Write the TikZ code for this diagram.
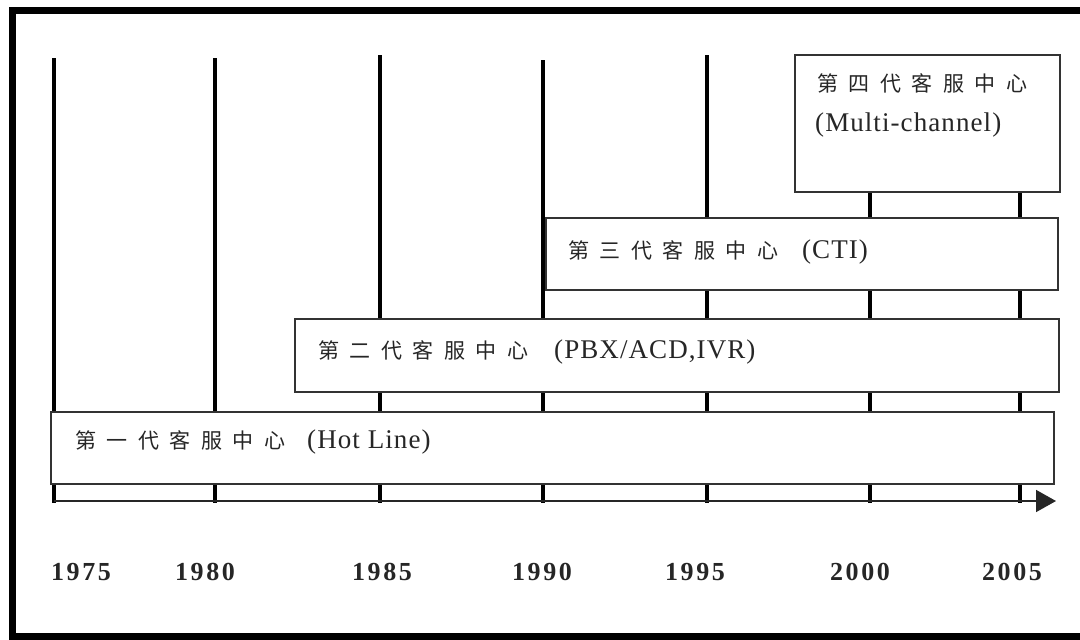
\documentclass[tikz,border=0pt]{standalone}
\usepackage{fontspec}
\setmainfont{Liberation Serif}
\newfontfamily\cjk{Noto Sans CJK TC}
\newfontfamily\latinspaced[LetterSpace=4]{Liberation Serif}
\newfontfamily\yearfont[LetterSpace=10]{Liberation Serif Bold}
\usetikzlibrary{arrows.meta}
\newcommand{\kk}{\hspace{10.5pt}}
\tikzset{
  frame/.style={line width=7pt, draw=black},
  yearline/.style={line width=4.5pt, draw=black},
  axisline/.style={line width=1.6pt, draw=black!85, -{Triangle[length=20pt,width=22pt]}},
  genbox/.style={draw=black!80, line width=1.5pt, fill=white, rectangle, inner sep=0pt, anchor=north west},
  boxtext/.style={inner sep=0pt, anchor=west, font=\fontsize{27}{32}\latinspaced, text=black!85},
  yearlbl/.style={inner sep=0pt, anchor=base, font=\fontsize{26}{30}\yearfont, text=black!85},
}
\begin{document}
\begin{tikzpicture}[x=1pt, y=-1pt]
\useasboundingbox (0,0) rectangle (1080,640);
\clip (0,0) rectangle (1080,640);
\fill[white] (0,0) rectangle (1080,640);
\draw[frame] (12,10) rectangle (1100,636);
% year lines
\coordinate (l1t) at (54,58);   \coordinate (l1b) at (54,503);
\coordinate (l2t) at (215,58);  \coordinate (l2b) at (215,503);
\coordinate (l3t) at (380,55);  \coordinate (l3b) at (380,503);
\coordinate (l4t) at (543,60);  \coordinate (l4b) at (543,503);
\coordinate (l5t) at (707,55);  \coordinate (l5b) at (707,503);
\coordinate (l6t) at (870,60);  \coordinate (l6b) at (870,503);
\coordinate (l7t) at (1020,60); \coordinate (l7b) at (1020,503);
\foreach \i in {1,...,7} { \draw[yearline] (l\i t) -- (l\i b); }
% axis
\coordinate (ax0) at (54,501);
\coordinate (ax1) at (1056,501);
\draw[axisline] (ax0) -- (ax1);
% boxes
\node[genbox, minimum width=265pt, minimum height=137pt] (g4) at (794,54) {};
\node[genbox, minimum width=512pt, minimum height=72pt] (g3) at (545,217) {};
\node[genbox, minimum width=764pt, minimum height=73pt] (g2) at (294,318) {};
\node[genbox, minimum width=1003pt, minimum height=72pt] (g1) at (50,411) {};
% texts
\node[boxtext] (t4a) at (817,83) {\fontsize{21}{24}\cjk 第\kk 四\kk 代\kk 客\kk 服\kk 中\kk 心};
\node[boxtext] (t4b) at (815,125) {(Multi-channel)};
\node[boxtext] (t3) at (568,252) {{\fontsize{21}{24}\cjk 第\kk 三\kk 代\kk 客\kk 服\kk 中\kk 心}\hspace{24pt}(CTI)};
\node[boxtext] (t2) at (318,352) {{\fontsize{21}{24}\cjk 第\kk 二\kk 代\kk 客\kk 服\kk 中\kk 心}\hspace{26pt}(PBX/ACD,IVR)};
\node[boxtext] (t1) at (75,442) {{\fontsize{21}{24}\cjk 第\kk 一\kk 代\kk 客\kk 服\kk 中\kk 心}\hspace{22pt}(Hot Line)};
% years
\node[yearlbl] (y1) at (81,580) {1975};
\node[yearlbl] (y2) at (205,580) {1980};
\node[yearlbl] (y3) at (382,580) {1985};
\node[yearlbl] (y4) at (542,580) {1990};
\node[yearlbl] (y5) at (695,580) {1995};
\node[yearlbl] (y6) at (860,580) {2000};
\node[yearlbl] (y7) at (1012,580) {2005};
\end{tikzpicture}
\end{document}
